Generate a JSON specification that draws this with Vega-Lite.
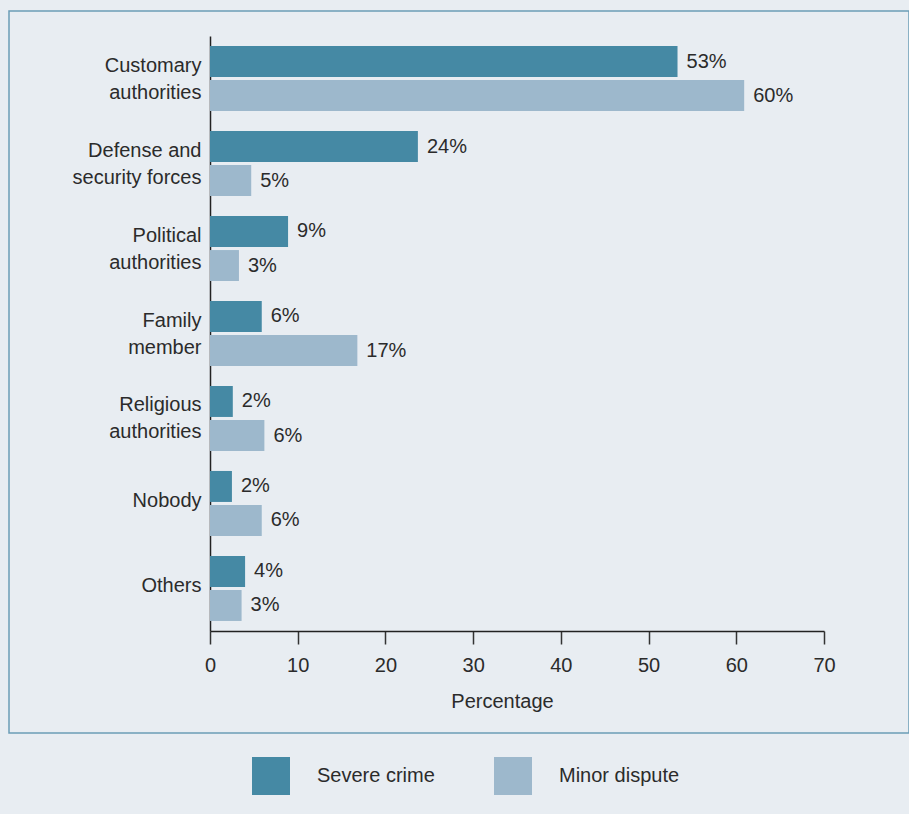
{
  "$schema": "https://vega.github.io/schema/vega-lite/v6.json",
  "autosize": {"type": "none"},
  "width": 900,
  "height": 722,
  "padding": {"left": 9, "top": 11, "right": 0, "bottom": 81},
  "background": "#e8edf2",
  "config": {
    "view": {"fill": "#e8edf2", "stroke": "#6b9db7", "strokeWidth": 1.5},
    "font": "Liberation Sans",
    "text": {"font": "Liberation Sans"}
  },
  "data": {
    "values": [
      {"category": "Customary authorities", "series": "Severe crime", "value": 53.3, "label": "53%"},
      {"category": "Customary authorities", "series": "Minor dispute", "value": 60.9, "label": "60%"},
      {"category": "Defense and security forces", "series": "Severe crime", "value": 23.7, "label": "24%"},
      {"category": "Defense and security forces", "series": "Minor dispute", "value": 4.7, "label": "5%"},
      {"category": "Political authorities", "series": "Severe crime", "value": 8.9, "label": "9%"},
      {"category": "Political authorities", "series": "Minor dispute", "value": 3.3, "label": "3%"},
      {"category": "Family member", "series": "Severe crime", "value": 5.9, "label": "6%"},
      {"category": "Family member", "series": "Minor dispute", "value": 16.8, "label": "17%"},
      {"category": "Religious authorities", "series": "Severe crime", "value": 2.6, "label": "2%"},
      {"category": "Religious authorities", "series": "Minor dispute", "value": 6.2, "label": "6%"},
      {"category": "Nobody", "series": "Severe crime", "value": 2.5, "label": "2%"},
      {"category": "Nobody", "series": "Minor dispute", "value": 5.9, "label": "6%"},
      {"category": "Others", "series": "Severe crime", "value": 4.0, "label": "4%"},
      {"category": "Others", "series": "Minor dispute", "value": 3.6, "label": "3%"}
    ]
  },
  "encoding": {
    "y": {
      "field": "category",
      "type": "nominal",
      "sort": null,
      "scale": {"range": [25, 620], "paddingInner": 0.235, "paddingOuter": 0.118},
      "axis": {
        "orient": "left",
        "offset": -201,
        "title": null,
        "ticks": false,
        "domainColor": "#222222",
        "domainWidth": 1.5,
        "labelFont": "Liberation Sans",
        "labelFontSize": 20,
        "labelColor": "#2b2b2b",
        "labelPadding": 9,
        "labelLineHeight": 27,
        "labelLimit": 300,
        "labelOffset": {"condition": {"test": "datum.value != 'Nobody' && datum.value != 'Others'", "value": -13}, "value": -2},
        "labelExpr": "{'Customary authorities': ['Customary', 'authorities'], 'Defense and security forces': ['Defense and', 'security forces'], 'Political authorities': ['Political', 'authorities'], 'Family member': ['Family', 'member'], 'Religious authorities': ['Religious', 'authorities']}[datum.value] || datum.value"
      }
    },
    "yOffset": {
      "field": "series",
      "type": "nominal",
      "sort": ["Severe crime", "Minor dispute"],
      "scale": {"paddingInner": 0.09, "paddingOuter": 0}
    },
    "x": {
      "field": "value",
      "type": "quantitative",
      "scale": {"domain": [0, 70], "range": [201, 815], "nice": false},
      "axis": {
        "orient": "bottom",
        "offset": -102,
        "values": [0, 10, 20, 30, 40, 50, 60, 70],
        "grid": false,
        "title": "Percentage",
        "titleFont": "Liberation Sans",
        "titleFontSize": 20,
        "titleFontWeight": "normal",
        "titleColor": "#2b2b2b",
        "titleX": 493,
        "titlePadding": 16,
        "domainColor": "#222222",
        "domainWidth": 1.5,
        "tickColor": "#333333",
        "tickWidth": 1.5,
        "tickSize": 13,
        "labelFlush": false,
        "labelFont": "Liberation Sans",
        "labelFontSize": 20,
        "labelColor": "#2b2b2b",
        "labelPadding": 11
      }
    }
  },
  "layer": [
    {
      "mark": {"type": "bar", "x": 201},
      "encoding": {
        "color": {
          "field": "series",
          "type": "nominal",
          "sort": ["Severe crime", "Minor dispute"],
          "scale": {"domain": ["Severe crime", "Minor dispute"], "range": ["#4589a4", "#9db8cc"]},
          "legend": {
            "orient": "none",
            "legendX": 243,
            "legendY": 746,
            "title": null,
            "direction": "horizontal",
            "symbolType": "square",
            "symbolSize": 1444,
            "symbolStrokeWidth": 0,
            "symbolOpacity": 1,
            "labelFont": "Liberation Sans",
            "labelFontSize": 20,
            "labelColor": "#2b2b2b",
            "labelOffset": 27,
            "columnPadding": 59
          }
        }
      }
    },
    {
      "mark": {"type": "text", "align": "left", "baseline": "middle", "dx": 9, "fontSize": 20, "color": "#2b2b2b", "font": "Liberation Sans"},
      "encoding": {"text": {"field": "label"}}
    }
  ]
}
